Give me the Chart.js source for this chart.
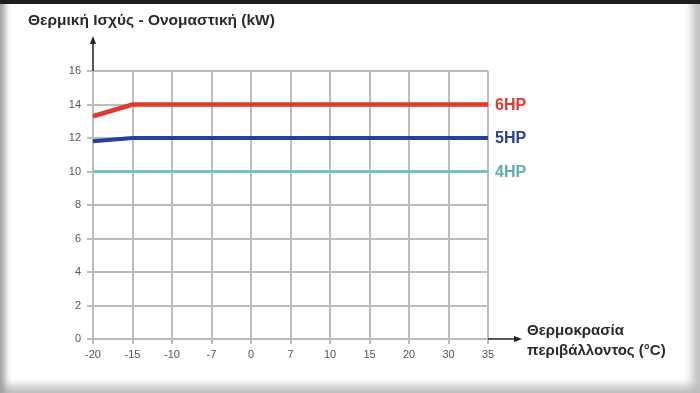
<!DOCTYPE html>
<html>
<head>
<meta charset="utf-8">
<script src="https://cdn.jsdelivr.net/npm/chart.js@4"></script>
<style>
  html, body { margin: 0; padding: 0; background: #fff; }
  #cadre {
    position: relative; width: 700px; height: 393px; background: #fff;
    box-shadow: inset 0 4px 0 #1e1e1e, inset 8px 0 6px -3px #a0a0a0,
                inset -14px 0 9px -6px #c0c0c0, inset 0 -14px 9px -6px #c4c4c4;
  }
  canvas { position: absolute; left: 0; top: 0; }
</style>
</head>
<body>
<div id="cadre"><canvas id="chart" width="700" height="393"></canvas></div>
<script>
// Données
const temperatures = ["-20", "-15", "-10", "-7", "0", "7", "10", "15", "20", "30", "35"];
const puissance6HP = [13.3, 14, 14, 14, 14, 14, 14, 14, 14, 14, 14];
const puissance5HP = [11.8, 12, 12, 12, 12, 12, 12, 12, 12, 12, 12];
const puissance4HP = [10, 10, 10, 10, 10, 10, 10, 10, 10, 10, 10];
const seriesLabels = ["6HP", "5HP", "4HP"];
const yMin = 0, yMax = 16, yStep = 2;

const couleurs = ["#e2392d", "#26419a", "#6ec6c0"];
const couleursTexte = ["#e2392d", "#2a3f96", "#5cb0aa"];
const epaisseurs = [4.5, 4, 3];

// Flèches des axes + titres + étiquettes de séries
const decorations = {
  id: "decorations",
  afterDraw(chart) {
    const ctx = chart.ctx;
    const area = chart.chartArea;
    ctx.save();
    ctx.strokeStyle = "#222";
    ctx.fillStyle = "#222";
    ctx.lineWidth = 1.5;
    // axe Y prolongé
    ctx.beginPath();
    ctx.moveTo(area.left, area.top);
    ctx.lineTo(area.left, 42);
    ctx.stroke();
    ctx.beginPath();
    ctx.moveTo(area.left, 36);
    ctx.lineTo(area.left - 3, 44);
    ctx.lineTo(area.left + 3, 44);
    ctx.closePath();
    ctx.fill();
    // axe X prolongé
    ctx.beginPath();
    ctx.moveTo(area.right, area.bottom);
    ctx.lineTo(516, area.bottom);
    ctx.stroke();
    ctx.beginPath();
    ctx.moveTo(522, area.bottom);
    ctx.lineTo(514, area.bottom - 3);
    ctx.lineTo(514, area.bottom + 3);
    ctx.closePath();
    ctx.fill();

    // titres
    ctx.fillStyle = "#2b2b2b";
    ctx.font = "bold 15.5px 'Liberation Sans', Arial, sans-serif";
    ctx.textBaseline = "middle";
    ctx.textAlign = "left";
    ctx.fillText("Θερμική Ισχύς - Ονομαστική (kW)", 28, 21);
    ctx.font = "bold 15px 'Liberation Sans', Arial, sans-serif";
    ctx.fillText("Θερμοκρασία", 527, 331);
    ctx.fillText("περιβάλλοντος (°C)", 527, 351);

    // étiquettes au bout des courbes
    ctx.font = "bold 16px 'Liberation Sans', Arial, sans-serif";
    chart.data.datasets.forEach((ds, i) => {
      const meta = chart.getDatasetMeta(i);
      const dernier = meta.data[meta.data.length - 1];
      ctx.fillStyle = couleursTexte[i];
      ctx.fillText(seriesLabels[i], dernier.x + 7, dernier.y + 1);
    });
    ctx.restore();
  }
};

const ctxChart = document.getElementById("chart").getContext("2d");
new Chart(ctxChart, {
  type: "line",
  data: {
    labels: temperatures,
    datasets: [puissance6HP, puissance5HP, puissance4HP].map((valeurs, i) => ({
      label: seriesLabels[i],
      data: valeurs,
      borderColor: couleurs[i],
      borderWidth: epaisseurs[i],
      pointRadius: 0,
      tension: 0,
      fill: false,
      borderCapStyle: "butt"
    }))
  },
  options: {
    responsive: false,
    animation: false,
    layout: { padding: { left: 58, right: 212, top: 71, bottom: 24 } },
    plugins: {
      legend: { display: false },
      tooltip: { enabled: false }
    },
    scales: {
      x: {
        offset: false,
        grid: { color: "#bdbdbd", lineWidth: 2, tickLength: 5, drawTicks: true },
        border: { display: false },
        ticks: {
          color: "#555",
          font: { size: 11, family: "'Liberation Sans', Arial, sans-serif" },
          padding: 4,
          maxRotation: 0,
          autoSkip: false
        },
        afterFit(scale) { scale.height = 30; }
      },
      y: {
        min: yMin,
        max: yMax,
        grid: { color: "#bdbdbd", lineWidth: 2, tickLength: 6 },
        border: { display: false },
        ticks: {
          stepSize: yStep,
          color: "#555",
          font: { size: 11, family: "'Liberation Sans', Arial, sans-serif" },
          padding: 6
        },
        afterFit(scale) { scale.width = 35; }
      }
    }
  },
  plugins: [decorations]
});
</script>
</body>
</html>
